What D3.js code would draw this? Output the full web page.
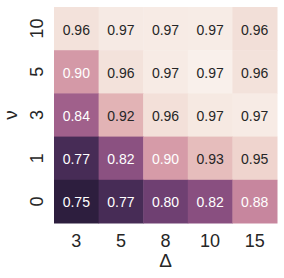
<!DOCTYPE html>
<html>
<head>
<meta charset="utf-8">
<script src="https://cdn.jsdelivr.net/npm/d3@7"></script>
<style>
  html, body { margin: 0; padding: 0; background: #fff; }
  svg { display: block; }
  text { font-family: "Liberation Sans", Arial, sans-serif; }
</style>
</head>
<body>
<script>
// Data (rows top to bottom = ν values, columns = Δ values)
const nuLabels = ["10", "5", "3", "1", "0"];
const deltaLabels = ["3", "5", "8", "10", "15"];
const row10 = [0.962, 0.969, 0.970, 0.971, 0.959];
const row5  = [0.898, 0.962, 0.970, 0.975, 0.962];
const row3  = [0.840, 0.921, 0.960, 0.968, 0.970];
const row1  = [0.770, 0.822, 0.900, 0.930, 0.950];
const row0  = [0.750, 0.770, 0.800, 0.820, 0.880];
const rows = [row10, row5, row3, row1, row0];
const xTitle = "Δ";
const yTitle = "ν";

const W = 284, H = 278;
const svg = d3.select("body").append("svg").attr("width", W).attr("height", H);

const x = d3.scaleBand().domain(deltaLabels).range([54, 277]).padding(0);
const y = d3.scaleBand().domain(nuLabels).range([7, 223]).padding(0);

const cells = [];
rows.forEach((r, i) => r.forEach((v, j) => cells.push({nu: nuLabels[i], d: deltaLabels[j], v})));
const [vmin, vmax] = d3.extent(cells, c => c.v);

// seaborn cubehelix_palette(light=.95, dark=.15, reverse=True)
function cubehelix(xv) {
  const start = 0, rot = 0.4, gamma = 1.0, hue = 0.8;
  const xg = Math.pow(xv, gamma);
  const a = hue * xg * (1 - xg) / 2;
  const phi = 2 * Math.PI * (start / 3 + rot * xv);
  const f = (p0, p1) => Math.max(0, Math.min(1, xg + a * (p0 * Math.cos(phi) + p1 * Math.sin(phi))));
  return [f(-0.14861, 1.78277), f(-0.29227, -0.90649), f(1.97294, 0.0)];
}
const tScale = d3.scaleLinear().domain([vmin, vmax]).range([0.15, 0.95]).clamp(true);
function colorOf(v) {
  const [r, g, b] = cubehelix(tScale(v));
  return d3.rgb(r * 255, g * 255, b * 255);
}
function lum(c) {
  const lin = u => { u /= 255; return u <= 0.03928 ? u / 12.92 : Math.pow((u + 0.055) / 1.055, 2.4); };
  return 0.2126 * lin(c.r) + 0.7152 * lin(c.g) + 0.0722 * lin(c.b);
}

svg.append("g").selectAll("rect").data(cells).join("rect")
  .attr("x", c => x(c.d)).attr("y", c => y(c.nu))
  .attr("width", x.bandwidth() + 0.5).attr("height", y.bandwidth() + 0.5)
  .attr("fill", c => colorOf(c.v));

svg.append("g").selectAll("text").data(cells).join("text")
  .attr("x", c => x(c.d) + x.bandwidth() / 2)
  .attr("y", c => y(c.nu) + y.bandwidth() / 2 + 6)
  .attr("text-anchor", "middle")
  .attr("font-size", 14)
  .attr("fill", c => lum(colorOf(c.v)) > 0.408 ? "#262626" : "#ffffff")
  .text(c => d3.format(".2f")(c.v));

// x tick labels
svg.append("g").selectAll("text").data(deltaLabels).join("text")
  .attr("x", d => x(d) + x.bandwidth() / 2).attr("y", 247)
  .attr("text-anchor", "middle").attr("font-size", 18).attr("fill", "#262626")
  .text(d => d);

// y tick labels (rotated)
svg.append("g").selectAll("text").data(nuLabels).join("text")
  .attr("transform", d => `translate(42.5,${y(d) + y.bandwidth() / 2}) rotate(-90)`)
  .attr("text-anchor", "middle").attr("font-size", 18).attr("fill", "#262626")
  .text(d => d);

// axis titles
svg.append("text").attr("x", (54 + 277) / 2).attr("y", 267)
  .attr("text-anchor", "middle").attr("font-size", 19).attr("fill", "#262626").text(xTitle);
svg.append("text").attr("transform", `translate(17,${(7 + 223) / 2}) rotate(-90)`)
  .attr("text-anchor", "middle").attr("font-size", 19).attr("fill", "#262626").text(yTitle);
</script>
</body>
</html>
